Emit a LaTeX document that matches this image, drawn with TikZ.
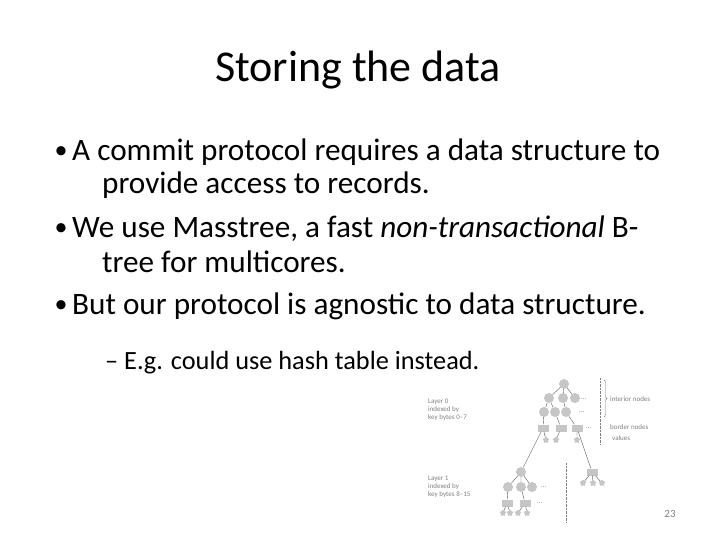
\documentclass[tikz,border=0pt]{standalone}
\usepackage{fontspec}
\setmainfont{Carlito}
\usetikzlibrary{shapes.geometric,decorations.pathreplacing}
\begin{document}
\begin{tikzpicture}[x=1pt,y=-1pt,
  txt/.style={anchor=west,inner sep=0,font=\fontsize{31.2}{37}\selectfont},
  bul/.style={inner sep=0,font=\fontsize{26}{30}\selectfont},
  sub/.style={anchor=west,inner sep=0,font=\fontsize{26.3}{32}\selectfont},
  tiny/.style={anchor=west,inner sep=0,font=\fontsize{7}{8}\selectfont\rmfamily,text=gray},
  cn/.style={circle,fill=gray!45,minimum size=10pt,inner sep=0},
  rn/.style={rectangle,fill=gray!45,minimum width=11pt,minimum height=7pt,inner sep=0},
  sn/.style={star,star points=5,fill=gray!45,minimum size=7pt,inner sep=0},
  ed/.style={draw=gray!70!black,line width=0.4pt},
  dt/.style={tiny,font=\fontsize{7}{8}\selectfont}]
\useasboundingbox (0,0) rectangle (720,540);
\node[font=\fontsize{44}{52}\selectfont] (title) at (358,70) {Storing the data};
\node[bul] (b1) at (61,153) {•};
\node[txt] (l1) at (72,152) {A commit protocol requires a data structure to};
\node[txt] (l2) at (102,185) {provide access to records.};
\node[bul] (b2) at (61,230) {•};
\node[txt] (l3) at (72,229) {We use Masstree, a fast \textit{non-transactional} B-};
\node[txt] (l4) at (102,262) {tree for multicores.};
\node[bul] (b3) at (61,307) {•};
\node[txt] (l5) at (72,306) {But our protocol is agnostic to data structure.};
\node[sub] (l6) at (105,363) {– E.g. could use hash table instead.};
% layer 0
\node[cn] (r) at (564,384) {};
\node[cn] (a1) at (549,398) {}; \node[cn] (a2) at (563,398) {}; \node[cn] (a3) at (575,398) {};
\node[cn] (c1) at (544,412) {}; \node[cn] (c2) at (555,412) {}; \node[cn] (c3) at (566,412) {};
\node[rn] (p1) at (543,428) {}; \node[rn] (p2) at (561,428) {}; \node[rn] (p3) at (577,428) {};
\node[sn] (s1) at (546,440) {}; \node[sn] (s2) at (556,440) {}; \node[sn] (s3) at (577,440) {};
\node[dt] (d1) at (581,399) {...}; \node[dt] (d2) at (579,412) {...}; \node[dt] (d3) at (586,428) {...};
\draw[ed] (r)--(a1) (r)--(a2) (r)--(a3) (a1)--(c1) (a1)--(c2) (a2)--(c3)
  (c1)--(p1) (c2)--(p2) (c3)--(p3) (p1)--(s1) (p2)--(s2) (p3)--(s3);
% layer 1
\node[cn] (q) at (521,472) {};
\node[cn] (e1) at (508,487) {}; \node[cn] (e2) at (521,487) {}; \node[cn] (e3) at (532,487) {};
\node[rn] (f1) at (507,503) {}; \node[rn] (f2) at (525,503) {};
\node[sn] (t1) at (503,513) {}; \node[sn] (t2) at (510,513) {}; \node[sn] (t3) at (518,513) {}; \node[sn] (t4) at (527,513) {};
\node[dt] (d4) at (541,487) {...}; \node[dt] (d5) at (537,503) {...};
\node[rn] (g) at (592,472) {};
\node[sn] (u1) at (583,483) {}; \node[sn] (u2) at (593,483) {}; \node[sn] (u3) at (602,483) {};
\draw[ed] (p1)--(q) (p3)--(g) (q)--(e1) (q)--(e2) (q)--(e3) (e1)--(f1) (e2)--(f2)
  (f1)--(t1) (f1)--(t2) (f2)--(t3) (f2)--(t4) (g)--(u1) (g)--(u2) (g)--(u3);
\coordinate (v1) at (600,378); \coordinate (v2) at (600,445);
\coordinate (w1) at (566,463); \coordinate (w2) at (566,522);
\draw[gray,densely dotted] (v1)--(v2) (w1)--(w2);
\coordinate (k1) at (604,380); \coordinate (k2) at (604,417);
\draw[gray,decorate,decoration={brace,amplitude=3pt}] (k1)--(k2);
\node[tiny] (n1) at (610,399) {interior nodes};
\node[tiny] (n2) at (610,427) {border nodes};
\node[tiny] (n3) at (612,438) {values};
\node[tiny,align=left] (L0) at (428,410) {Layer 0\\indexed by\\key bytes 0–7};
\node[tiny,align=left] (L1) at (428,487) {Layer 1\\indexed by\\key bytes 8–15};
\node[font=\fontsize{11}{12}\selectfont,text=gray] (pg) at (670,514) {23};
\end{tikzpicture}
\end{document}
